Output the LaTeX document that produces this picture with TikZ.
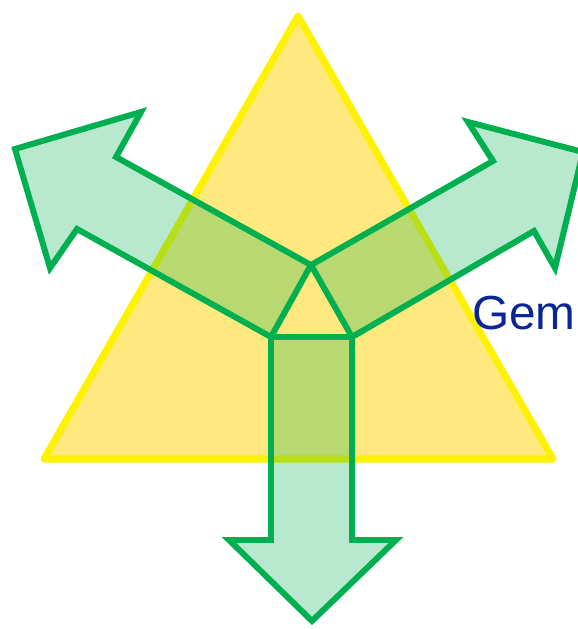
\documentclass[tikz,border=0pt]{standalone}
\usepackage{fontspec}
\setmainfont{Liberation Sans}
\definecolor{triyellow}{RGB}{255,233,127}
\definecolor{arrowgreen}{RGB}{0,176,80}
\definecolor{gemblue}{RGB}{10,38,150}
\begin{document}
\begin{tikzpicture}[x=0.05cm, y=-0.05cm,
  tri/.style={draw=yellow, fill=triyellow, line width=10pt, line join=round},
  arrowpart/.style={draw=arrowgreen, fill=arrowgreen, fill opacity=0.28, line width=8.5pt, line join=miter}]
\useasboundingbox (0,0) rectangle (577,629);
\draw[tri] (298,16) -- (44,459) -- (553,459) -- cycle;
\coordinate (top) at (311,265);
\coordinate (bl) at (271,337);
\coordinate (br) at (352,337);
\draw[arrowpart] (top) -- (116,157) -- (141,112) -- (15,149) -- (50,268) -- (77,229) -- (bl) -- cycle;
\draw[arrowpart] (top) -- (493,161) -- (468,122) -- (583,152) -- (555,268) -- (534,231) -- (br) -- cycle;
\draw[arrowpart] (bl) -- (271,540) -- (229,540) -- (312,621) -- (396,540) -- (352,540) -- (br) -- cycle;
\node[anchor=base west, inner sep=0pt, text=gemblue, font=\fontsize{68}{78}\selectfont] (gem) at (472,329) {Gem};
\end{tikzpicture}
\end{document}
